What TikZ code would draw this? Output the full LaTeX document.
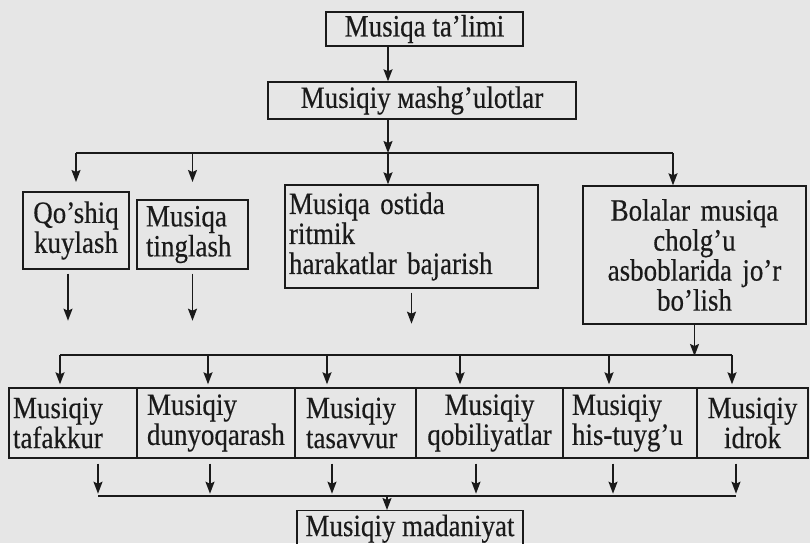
\documentclass[tikz,border=0pt]{standalone}
\usepackage{fontspec}
\setmainfont{Liberation Serif}[FakeStretch=0.87, FakeBold=0.4]
\usepackage{xcolor}
\usepackage{tikz}
\usetikzlibrary{arrows.meta, calc}
\definecolor{scanpaper}{HTML}{E6E6E6}
\definecolor{scanink}{HTML}{1A1A1A}

\begin{document}
\begin{tikzpicture}[x=1pt, y=-1pt,
    box/.style={draw=scanink, line width=1.4pt, inner xsep=4pt, inner ysep=0pt,
                text=scanink, font=\fontsize{31}{30}\selectfont},
    arr/.style={draw=scanink, line width=1.5pt, -{Stealth[length=12pt, width=9pt, inset=2pt]}},
    bus/.style={draw=scanink, line width=1.9pt}]
    \useasboundingbox (0,0) rectangle (810,543);
    \clip (0,0) rectangle (810,543);
    \fill[scanpaper] (0,0) rectangle (810,543);

    \node[box, minimum width=197pt, minimum height=34pt] (talim) at (424.5,29) {Musiqa ta’limi};
    \node[box, minimum width=308pt, minimum height=37pt] (mashg) at (422,100.5) {Musiqiy мashg’ulotlar};

    \node[box, text width=98pt, align=center, minimum height=77pt] (qoshiq) at (76,230.5) {Qo’shiq\\kuylash};
    \node[box, inner xsep=9pt, text width=93pt, align=left, minimum height=69pt] (tinglash) at (192.5,234.5) {Musiqa\\tinglash};
    \node[box, text width=245pt, align=left, minimum height=103pt] (ostida) at (411.5,236.5) {Musiqa ostida\\ritmik\\harakatlar bajarish};
    \node[box, text width=215pt, align=center, minimum height=138pt] (bolalar) at (694.5,255) {Bolalar musiqa\\cholg’u\\asboblarida jo’r\\bo’lish};

    \node[box, text width=120pt, align=left, minimum height=70pt] (tafakkur) at (73,423) {Musiqiy\\tafakkur};
    \node[box, inner xsep=10pt, text width=138pt, align=left, minimum height=70pt] (dunyo) at (216,423) {Musiqiy\\dunyoqarash};
    \node[box, inner xsep=11pt, text width=99pt, align=left, minimum height=70pt] (tasavvur) at (355.5,423) {Musiqiy\\tasavvur};
    \node[box, text width=139pt, align=center, minimum height=70pt] (qobil) at (489.5,423) {Musiqiy\\qobiliyatlar};
    \node[box, inner xsep=9pt, text width=116pt, align=left, minimum height=70pt] (hissiy) at (630,423) {Musiqiy\\his-tuyg’u};
    \node[box, text width=103pt, align=center, minimum height=70pt] (idrok) at (752.5,423) {Musiqiy\\idrok};

    \node[box, minimum width=226pt, minimum height=36pt, anchor=north] (madaniyat) at (410,510) {Musiqiy madaniyat};

    \coordinate (busA) at (388,153);
    \coordinate (busAend) at (673,153);
    \coordinate (tipA) at (0,182);
    \coordinate (busB) at (695,356);

    \draw[arr] (talim.south -| busA) -- (mashg.north -| busA);
    \draw[arr] (mashg.south -| busA) -- (busA);
    \draw[bus] (busA -| qoshiq) -- (busAend);
    \draw[arr] (busA -| qoshiq) -- (tipA -| qoshiq);
    \draw[arr] (busA -| tinglash) -- (tipA -| tinglash);
    \draw[arr] (busA) -- (ostida.north -| busA);
    \draw[arr] (busAend) -- (bolalar.north -| busAend);

    \draw[arr, shorten <=4pt] ($(qoshiq.south)+(-8,0)$) -- ++(0,51);
    \draw[arr, shorten <=4pt] (tinglash.south) -- ++(0,51);
    \draw[arr, shorten <=4pt] (ostida.south) -- ++(0,35);
    \draw[arr] (bolalar.south) -- (bolalar.south |- busB);

    \draw[bus] ($(tafakkur.north)+(-13,-32)$) -- ($(idrok.north)+(-20.5,-32)$);
    \foreach \n/\dx in {tafakkur/-13, dunyo/-8, tasavvur/-28.5, qobil/-29.5, hissiy/-21, idrok/-20.5}
        \draw[arr] ($(\n.north)+(\dx,-32)$) -- ($(\n.north)+(\dx,-3)$);

    \foreach \n/\dx in {tafakkur/25, dunyo/-6, tasavvur/-23.5, qobil/-13.5, hissiy/-17, idrok/-16.5}
        \draw[arr] ($(\n.south)+(\dx,5)$) -- ($(\n.south)+(\dx,35)$);
    \draw[bus] ($(tafakkur.south)+(25,37)$) -- ($(idrok.south)+(-16.5,37)$);
    \draw[arr] ($(madaniyat.north)+(-23,-15)$) -- ($(madaniyat.north)+(-23,0)$);
\end{tikzpicture}
\end{document}
